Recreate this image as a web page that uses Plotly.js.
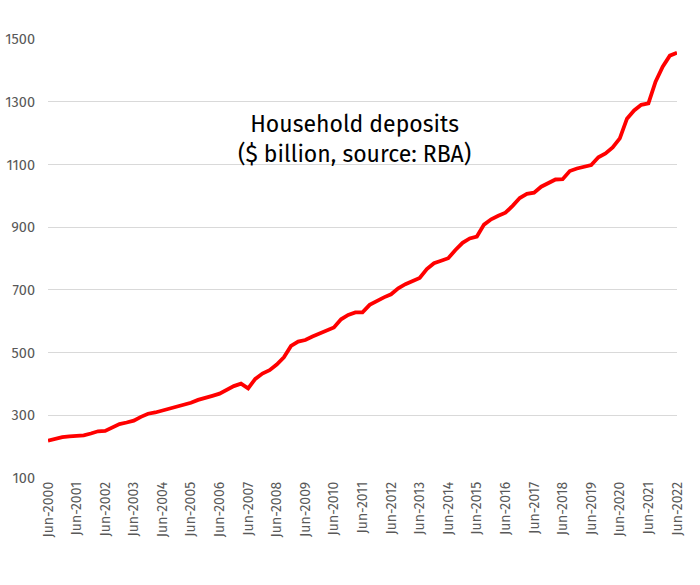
<!DOCTYPE html>
<html>
<head>
<meta charset="utf-8">
<script src="https://cdn.plot.ly/plotly-3.0.1.min.js"></script>
<style>html,body{margin:0;padding:0;background:#fff;}#chart{width:700px;height:585px;}</style>
</head>
<body>
<div id="chart"></div>
<script>
// Quarter labels, Jun-2000 .. Jun-2022
const months = ["Jun", "Sep", "Dec", "Mar"];
const quarters = [];
for (let i = 0; i < 89; i++) {
  const m = months[i % 4];
  const yr = 2000 + Math.floor(i / 4) + (i % 4 === 3 ? 1 : 0);
  quarters.push(m + "-" + yr);
}
const tickLabels = ["Jun-2000","Jun-2001","Jun-2002","Jun-2003","Jun-2004","Jun-2005","Jun-2006","Jun-2007","Jun-2008","Jun-2009","Jun-2010","Jun-2011","Jun-2012","Jun-2013","Jun-2014","Jun-2015","Jun-2016","Jun-2017","Jun-2018","Jun-2019","Jun-2020","Jun-2021","Jun-2022"];
const yTicks = [100, 300, 500, 700, 900, 1100, 1300, 1500];

// Household deposits, $ billion
const deposits = [
  219, 226, 230, 233,
  233, 236, 242, 249,
  250, 262, 272, 277,
  283, 295, 305, 309,
  315, 322, 328, 334,
  340, 349, 357, 362,
  369, 381, 393, 401,
  386, 416, 433, 444,
  462, 485, 521, 535,
  540, 551, 561, 572,
  580, 606, 620, 628,
  628, 652, 665, 676,
  686, 705, 718, 729,
  738, 766, 785, 793,
  801, 827, 850, 864,
  870, 908, 925, 936,
  946, 968, 993, 1006,
  1010, 1029, 1040, 1052,
  1053, 1079, 1087, 1093,
  1098, 1123, 1135, 1154,
  1183, 1246, 1272, 1290,
  1295, 1364, 1412, 1447,
  1456
];

const trace = {
  x: quarters,
  y: deposits,
  type: "scatter",
  mode: "lines",
  line: {color: "#ff0000", width: 3.8},
  hoverinfo: "x+y"
};

const layout = {
  width: 700,
  height: 585,
  margin: {l: 48, r: 23, t: 39, b: 107},
  paper_bgcolor: "#ffffff",
  plot_bgcolor: "#ffffff",
  showlegend: false,
  font: {family: "'Fira Sans', 'Noto Sans', sans-serif", color: "#595959", size: 14},
  xaxis: {
    type: "category",
    range: [0, 88],
    tickmode: "array",
    tickvals: tickLabels,
    ticktext: tickLabels,
    tickangle: -90,
    showgrid: false,
    zeroline: false,
    showline: false,
    ticks: "",
    tickfont: {size: 14, color: "#595959"}
  },
  yaxis: {
    range: [100, 1500],
    tickmode: "array",
    tickvals: yTicks,
    showgrid: true,
    gridcolor: "#d9d9d9",
    gridwidth: 1,
    zeroline: false,
    showline: false,
    ticks: "",
    ticklabelstandoff: 12,
    tickfont: {size: 14.5, color: "#595959"}
  },
  annotations: [{
    xref: "paper", yref: "paper",
    x: 0.487, y: 0.773,
    xanchor: "center", yanchor: "middle",
    showarrow: false,
    align: "center",
    text: "Household deposits<br>($ billion, source: RBA)",
    font: {size: 23, color: "#000000", family: "'Fira Sans', 'Noto Sans', sans-serif"}
  }]
};

Plotly.newPlot("chart", [trace], layout, {displayModeBar: false, staticPlot: true});
</script>
</body>
</html>
